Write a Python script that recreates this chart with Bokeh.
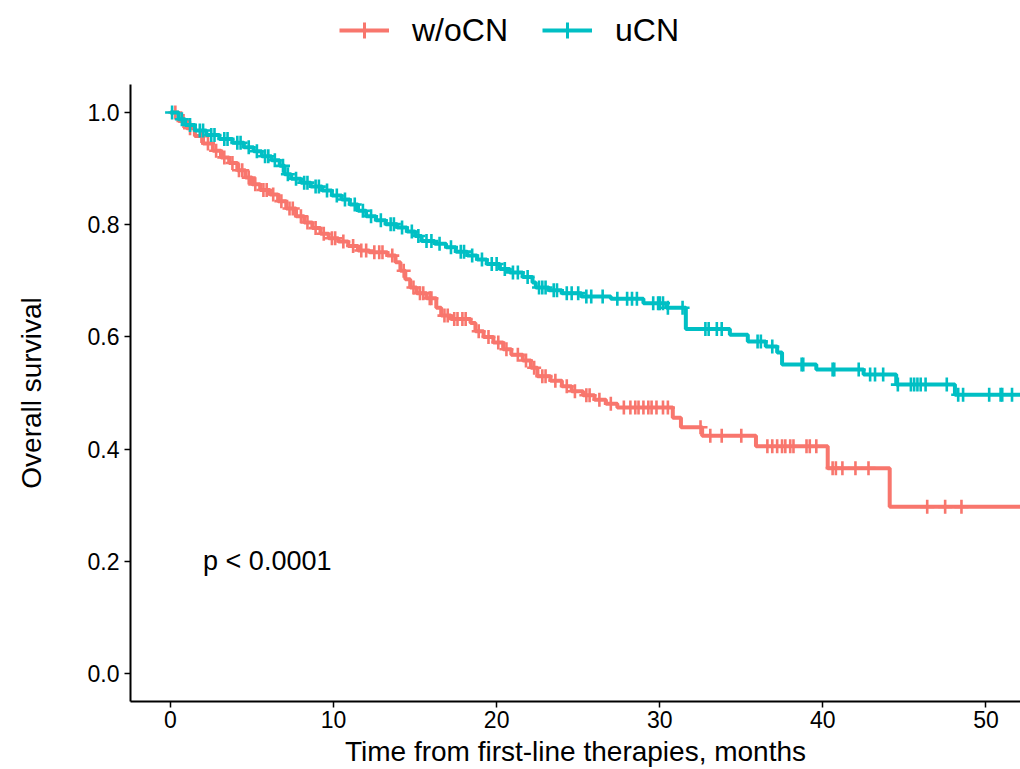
import numpy as np
from bokeh.plotting import figure
from bokeh.layouts import column
from bokeh.models import Range1d, Legend, LegendItem, Label, NumeralTickFormatter
from bokeh.embed import file_html
from bokeh.resources import INLINE

# ---------------- data ----------------
groups = ["w/oCN", "uCN"]
colors = ["#F8766D", "#00BFC4"]

red_time = [0, 0.5, 1.0, 1.5, 2.0, 2.6, 3.1, 3.6, 4.1, 4.6, 5.0, 5.5, 6.1, 6.6, 7.1, 7.7,
            8.2, 8.7, 9.2, 9.7, 10.3, 10.9, 11.5, 12.2, 13.3, 13.8, 14.1, 14.4, 14.7, 15.1,
            15.7, 16.3, 16.6, 17.2, 18.4, 18.7, 19.2, 19.8, 20.4, 20.9, 21.6, 22.1, 22.5,
            23.3, 24.0, 24.6, 25.3, 26.0, 26.7, 27.4, 30.8, 31.3, 32.6, 35.9, 40.3, 44.1]
red_surv = [1.0, 0.985, 0.972, 0.958, 0.945, 0.932, 0.920, 0.910, 0.897, 0.884, 0.872, 0.862,
            0.854, 0.842, 0.829, 0.815, 0.804, 0.794, 0.784, 0.776, 0.770, 0.762, 0.754, 0.751,
            0.745, 0.733, 0.718, 0.703, 0.688, 0.678, 0.669, 0.652, 0.638, 0.632, 0.625, 0.610,
            0.600, 0.590, 0.578, 0.568, 0.558, 0.545, 0.530, 0.522, 0.512, 0.503, 0.496, 0.488,
            0.481, 0.474, 0.456, 0.439, 0.424, 0.405, 0.366, 0.297]
red_censor = [0.3, 0.8, 1.2, 1.9, 2.3, 2.8, 3.3, 3.8, 4.2, 4.4, 4.8, 5.2, 5.7, 5.9, 6.3, 6.8,
              7.3, 7.5, 8.0, 8.4, 8.9, 9.4, 9.9, 10.1, 10.6, 11.2, 11.7, 12.0, 12.5, 12.8, 13.0,
              13.6, 14.3, 14.9, 15.3, 15.5, 15.9, 16.0, 16.8, 17.0, 17.4, 17.6, 17.9, 18.1,
              18.9, 19.5, 20.1, 20.6, 21.3, 21.8, 22.3, 22.8, 23.0, 23.6, 24.3, 24.8, 25.5,
              25.7, 26.3, 27.0, 27.8, 28.2, 28.5, 28.7, 29.0, 29.3, 29.5, 29.8, 30.2, 30.5,
              32.5, 33.1, 33.8, 35.0, 36.6, 36.9, 37.2, 37.5, 37.7, 38.0, 38.2, 39.0, 39.2,
              39.6, 40.6, 40.8, 41.2, 42.0, 42.8, 46.4, 47.5, 48.5]

blue_time = [0, 0.5, 0.9, 1.5, 2.2, 3.0, 3.8, 4.5, 5.1, 5.6, 6.2, 6.7, 7.0, 7.4, 8.0, 8.6,
             9.3, 9.9, 10.5, 11.0, 11.5, 12.0, 12.6, 13.2, 13.9, 14.5, 15.0, 15.4, 16.2, 16.9,
             17.5, 18.2, 18.8, 19.4, 20.2, 20.8, 21.6, 22.2, 22.4, 23.2, 24.0, 25.2, 27.0,
             29.0, 30.4, 31.6, 34.3, 35.4, 36.5, 37.2, 37.5, 39.6, 42.5, 44.5, 48.1]
blue_surv = [1.0, 0.988, 0.978, 0.968, 0.960, 0.953, 0.946, 0.938, 0.931, 0.922, 0.915, 0.905,
             0.890, 0.882, 0.875, 0.868, 0.861, 0.852, 0.845, 0.836, 0.825, 0.815, 0.808, 0.801,
             0.795, 0.788, 0.780, 0.771, 0.766, 0.760, 0.752, 0.745, 0.738, 0.730, 0.721, 0.715,
             0.707, 0.697, 0.688, 0.683, 0.678, 0.672, 0.668, 0.660, 0.652, 0.614, 0.604, 0.592,
             0.583, 0.572, 0.551, 0.542, 0.533, 0.515, 0.497]
blue_censor = [0.1, 0.7, 1.2, 1.8, 2.0, 2.5, 2.7, 3.3, 3.5, 4.1, 4.3, 4.8, 5.3, 5.8, 6.0, 6.4,
               6.9, 7.2, 7.7, 8.2, 8.4, 8.9, 9.1, 9.6, 10.2, 10.7, 11.3, 11.8, 12.3, 12.9, 13.5,
               13.7, 14.2, 14.8, 15.2, 15.7, 16.0, 16.5, 17.2, 17.8, 18.0, 18.5, 19.1, 19.7,
               20.0, 20.5, 21.0, 21.3, 21.9, 22.6, 22.8, 23.0, 23.5, 23.7, 24.3, 24.6, 25.0,
               25.5, 25.8, 26.5, 27.4, 28.0, 28.3, 28.6, 29.6, 29.9, 30.0, 30.2, 30.5, 31.4,
               32.8, 33.0, 33.5, 33.8, 36.0, 36.2, 36.9, 38.7, 38.8, 40.6, 40.7, 42.2, 42.9,
               43.2, 43.7, 44.6, 45.4, 45.6, 45.8, 46.0, 46.3, 47.6, 48.3, 48.6, 50.2, 50.9,
               51.0, 51.6]

follow_end = 53.0
x_ticks = [0, 10, 20, 30, 40, 50]
y_ticks = [0.0, 0.2, 0.4, 0.6, 0.8, 1.0]
x_title = "Time from first-line therapies, months"
y_title = "Overall survival"
pval_text = "p < 0.0001"
pval_x, pval_y = 2.0, 0.2

FONT = "Liberation Sans"
LINE_W = 4
MARK_SIZE = 14
MARK_W = 2.6

# ---------------- main plot ----------------
p = figure(width=1020, height=685, output_backend="svg", toolbar_location=None,
           x_range=Range1d(-2.45, 52.12), y_range=Range1d(-0.05, 1.05),
           min_border_left=130, min_border_top=0, min_border_right=0, min_border_bottom=66)
p.title.visible = False
p.outline_line_color = None
p.xgrid.visible = False
p.ygrid.visible = False


def step_path(t, s, end):
    t = np.asarray(t, float)
    s = np.asarray(s, float)
    xs = np.repeat(np.append(t, end), 2)[1:-1]
    ys = np.repeat(s, 2)
    return xs, ys


def surv_at(t, s, c):
    idx = np.searchsorted(np.asarray(t, float), np.asarray(c, float), side="right") - 1
    return np.asarray(s, float)[idx]


series = [(red_time, red_surv, red_censor), (blue_time, blue_surv, blue_censor)]
for (t, s, c), col in zip(series, colors):
    xs, ys = step_path(t, s, follow_end)
    p.line(xs, ys, line_color=col, line_width=LINE_W)
    p.scatter(c, surv_at(t, s, c), marker="cross", size=MARK_SIZE, line_color=col,
              line_width=MARK_W)

p.add_layout(Label(x=pval_x, y=pval_y, text=pval_text, text_font=FONT, text_font_size="27px",
                   text_baseline="middle", text_align="left", text_color="black"))

for ax in (p.xaxis[0], p.yaxis[0]):
    ax.axis_line_color = "black"
    ax.axis_line_width = 2
    ax.major_tick_line_color = "black"
    ax.major_tick_line_width = 1.5
    ax.major_tick_out = 6
    ax.major_tick_in = 0
    ax.minor_tick_line_color = None
    ax.major_label_text_font = FONT
    ax.major_label_text_font_size = "23px"
    ax.major_label_text_color = "black"
    ax.axis_label_text_font = FONT
    ax.axis_label_text_font_size = "28px"
    ax.axis_label_text_font_style = "normal"
    ax.axis_label_text_color = "black"

p.xaxis.ticker = x_ticks
p.yaxis.ticker = y_ticks
p.yaxis.formatter = NumeralTickFormatter(format="0.0")
p.xaxis.axis_label = x_title
p.yaxis.axis_label = y_title
p.xaxis.major_label_standoff = 3
p.xaxis.axis_label_standoff = 5
p.yaxis.major_label_standoff = 5
p.yaxis.axis_label_standoff = 38

# ---------------- legend strip above the plot ----------------
top = figure(width=1020, height=84, output_backend="svg", toolbar_location=None,
             x_range=Range1d(0, 1), y_range=Range1d(0, 1),
             x_axis_type=None, y_axis_type=None,
             min_border_left=0, min_border_right=0, min_border_top=0, min_border_bottom=0)
top.title.visible = False
top.outline_line_color = None
top.xgrid.visible = False
top.ygrid.visible = False

items = []
for name, col in zip(groups, colors):
    # key-only renderers (a single NaN point: nothing is drawn in the strip itself)
    rl = top.line([np.nan], [np.nan], line_color=col, line_width=LINE_W)
    rc = top.scatter([np.nan], [np.nan], marker="cross", size=MARK_SIZE, line_color=col,
                     line_width=3)
    items.append(LegendItem(label=name, renderers=[rl, rc]))

legend = Legend(items=items, orientation="horizontal", location=(209, 34),
                label_text_font=FONT, label_text_font_size="32px", label_text_color="black",
                glyph_width=50, glyph_height=40, label_standoff=23, spacing=34,
                padding=0, margin=0, border_line_color=None, background_fill_alpha=0)
top.add_layout(legend)

layout = column(top, p, spacing=0)
open("out.html", "w").write(file_html(layout, INLINE))
